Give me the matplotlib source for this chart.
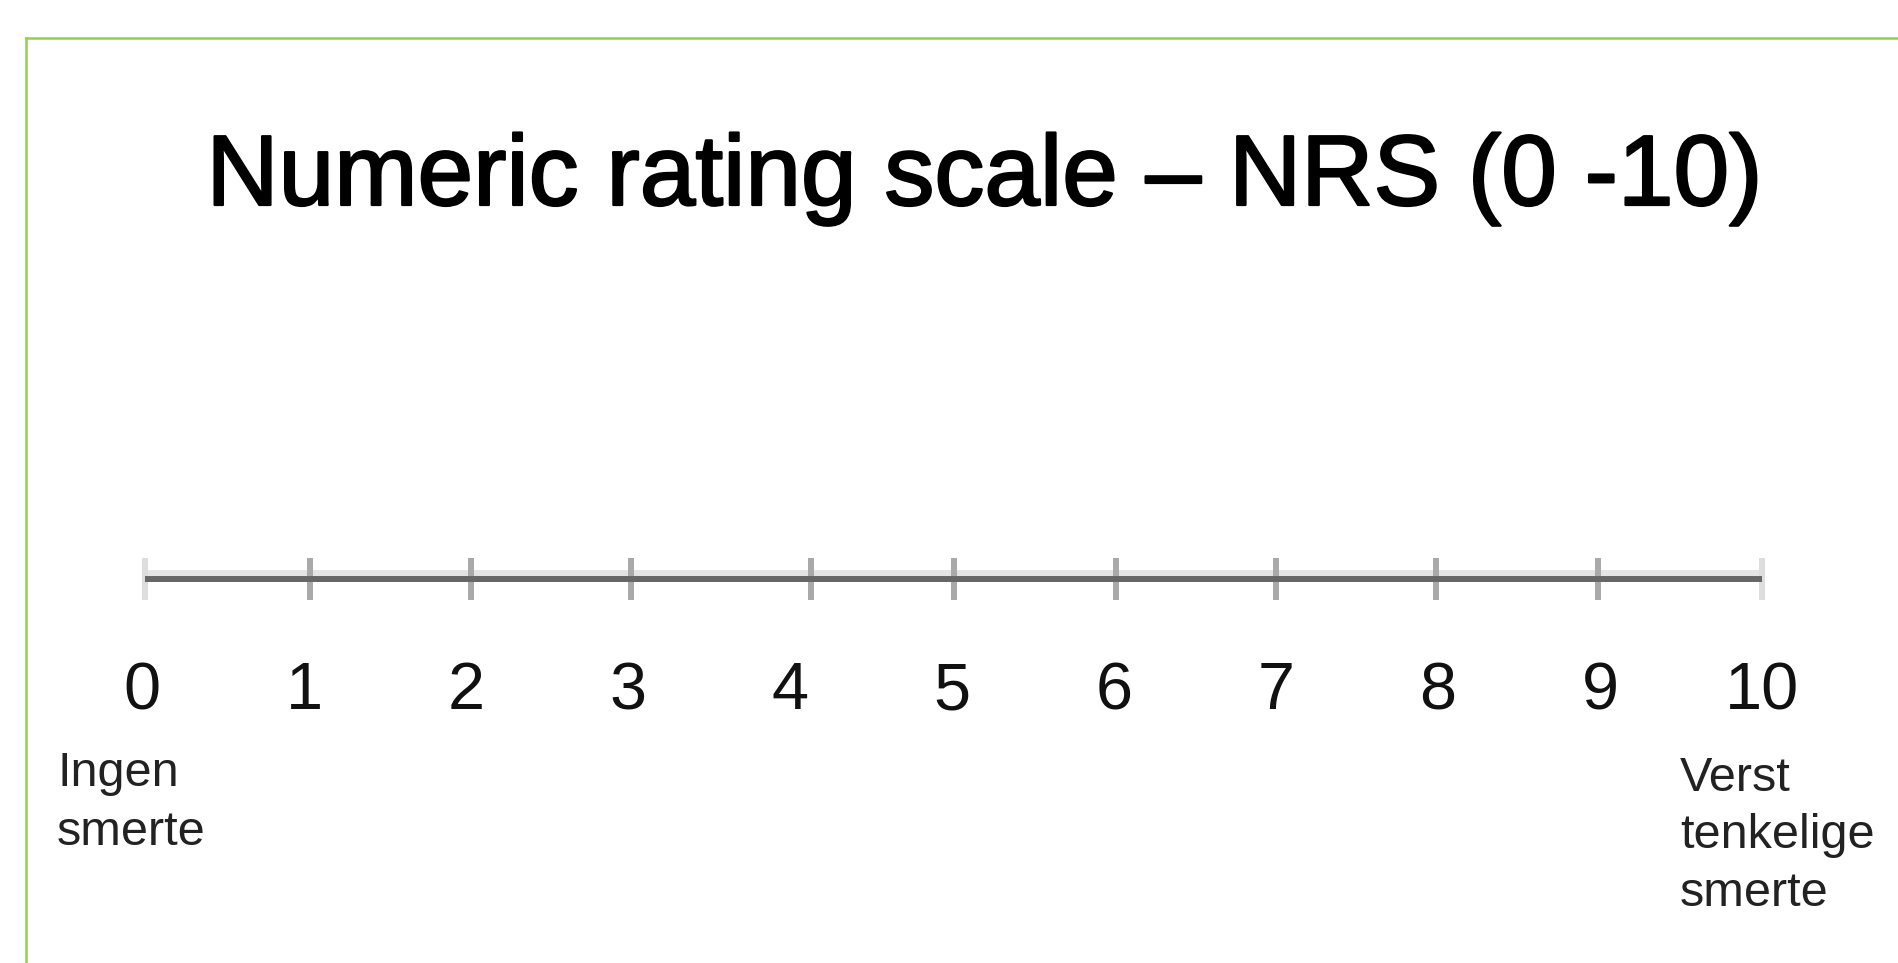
import matplotlib
matplotlib.use("Agg")
import matplotlib.pyplot as plt
import matplotlib.patheffects as pe
from matplotlib.lines import Line2D

# data
title = "Numeric rating scale – NRS (0 -10)"
scale_values = [0, 1, 2, 3, 4, 5, 6, 7, 8, 9, 10]
tick_pos = [0.02, 1.04, 2.03, 3.02, 4.13, 5.01, 6.01, 7.00, 7.99, 8.99, 10.0]
low_label = "Ingen\nsmerte"
high_label = "Verst\ntenkelige\nsmerte"

W, H = 1898, 963
plt.rcParams['font.family'] = ['Liberation Sans', 'DejaVu Sans']

fig = plt.figure(figsize=(W / 100, H / 100), dpi=100)
ax = fig.add_axes([0, 0, 1, 1])
# x: scale units (0 at 142 px, 162 px per step), y: pixel rows
ax.set_xlim(-142 / 162, (W - 142) / 162)
ax.set_ylim(H, 0)
ax.axis("off")

# green frame (left and top edges only visible)
fig.add_artist(Line2D([26 / W, 1], [1 - 38 / H, 1 - 38 / H], color="#92d050", lw=1.8))
fig.add_artist(Line2D([26 / W, 26 / W], [0, 1 - 38 / H], color="#92d050", lw=1.8))

# title, a bit heavier like the reference
ax.text(5.2, 205, title, fontsize=72, ha="center", va="baseline", color="black",
        path_effects=[pe.withStroke(linewidth=1.6, foreground="black")])

# the scale line with its soft shade
ax.hlines(573, tick_pos[0], tick_pos[-1], color="#e4e4e4", lw=4.3, zorder=1)
ax.vlines(tick_pos[1:-1], 558, 600, color="#a9a9a9", lw=4.3, zorder=2)
ax.vlines([tick_pos[0], tick_pos[-1]], 558, 600, color="#dddddd", lw=4.3, zorder=2)
ax.hlines(579, tick_pos[0], tick_pos[-1], color="#666666", lw=4.3, zorder=3)

# numbers
for v in scale_values:
    ax.text(v, 709, str(v), fontsize=48, ha="center", va="baseline", color="#111111")

# end labels (multi-line baseline = last line)
ax.text((57 - 142) / 162, 845, low_label, fontsize=35, ha="left", va="baseline",
        color="#222222", linespacing=1.40)
ax.text((1680 - 142) / 162, 906, high_label, fontsize=35, ha="left", va="baseline",
        color="#222222", linespacing=1.36)

fig.savefig("out.png", dpi=100)
